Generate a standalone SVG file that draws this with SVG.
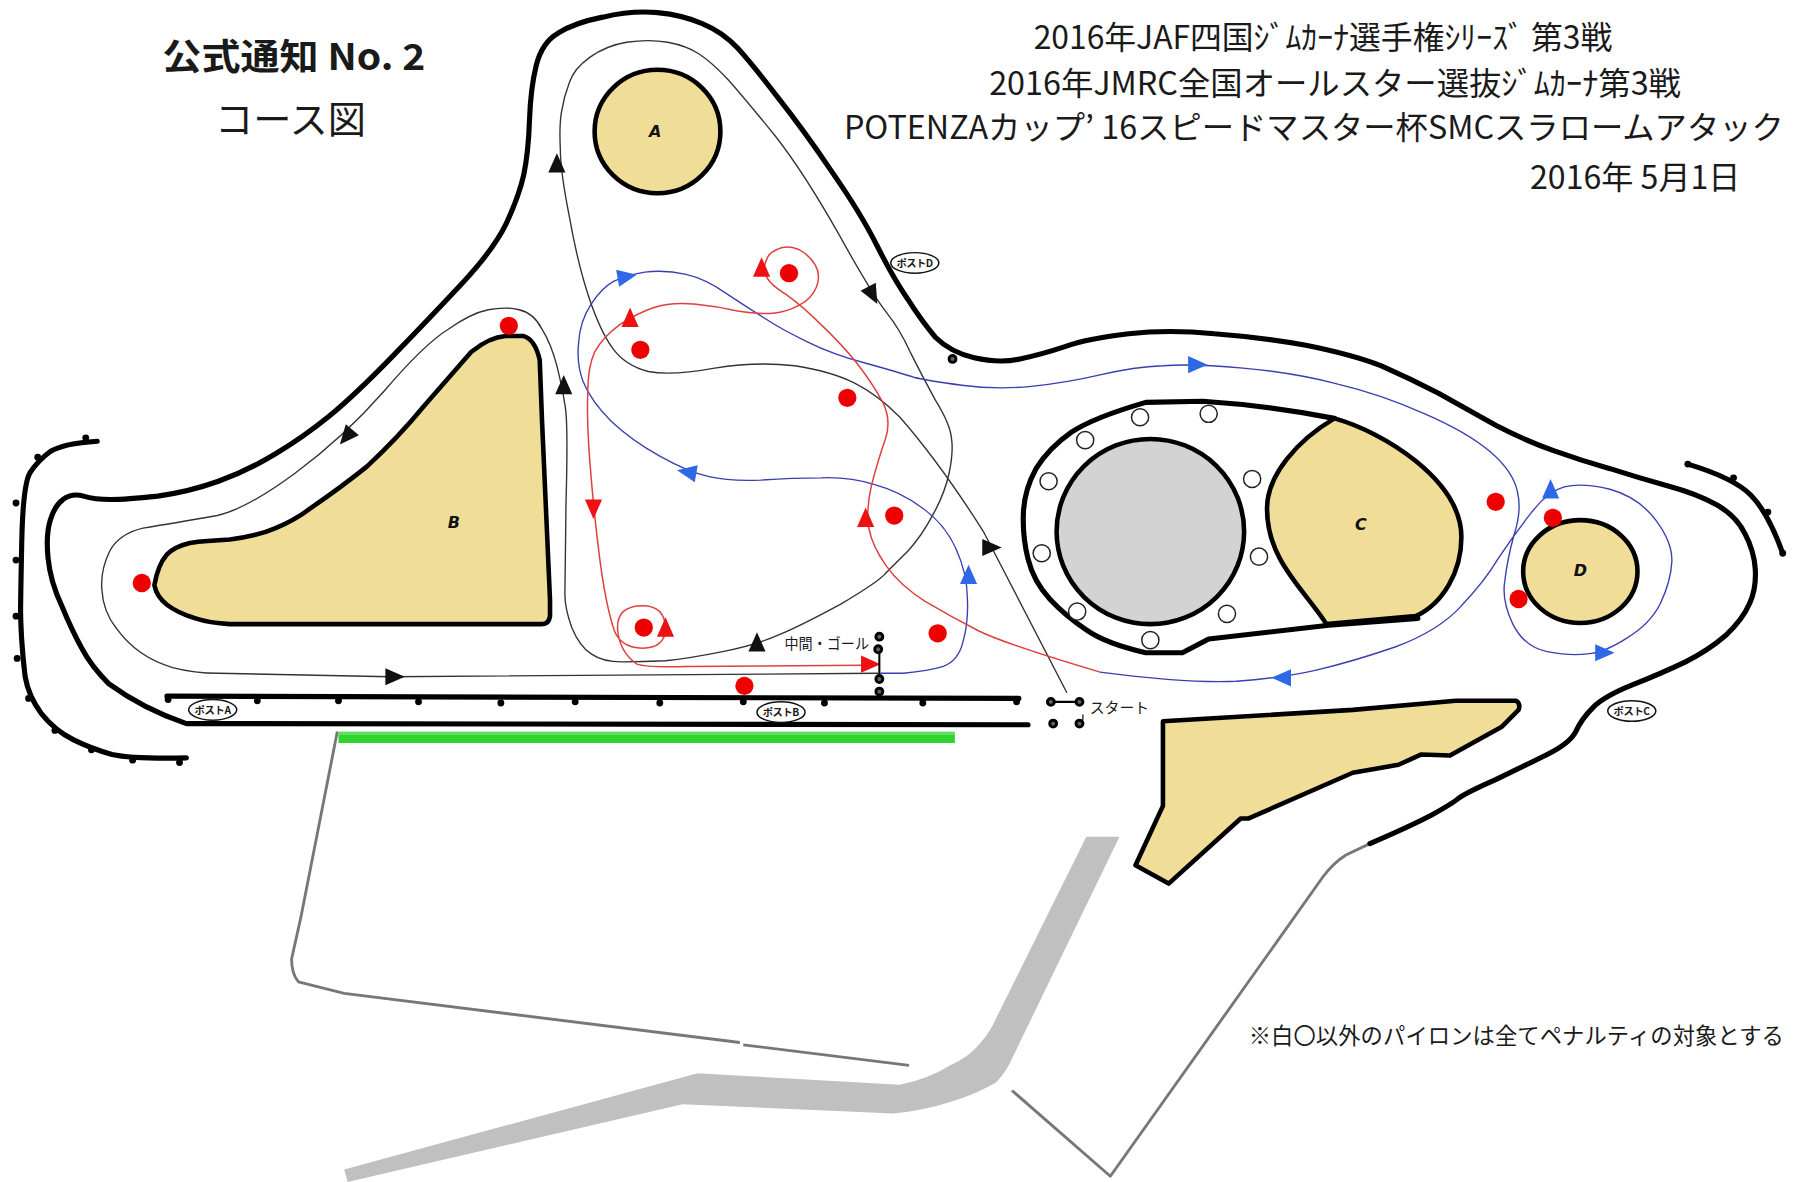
<svg xmlns="http://www.w3.org/2000/svg" width="1793" height="1182" viewBox="0 0 1793 1182">
<style>
text{font-family:"Noto Sans CJK JP","Liberation Sans",sans-serif;fill:#1a1a1a}
.wall{fill:none;stroke:#000;stroke-width:4.5;stroke-linecap:round;stroke-linejoin:round}
.isl{fill:#f0dd98;stroke:#000;stroke-width:4;stroke-linejoin:round}
.gl{fill:none;stroke:#777;stroke-width:2.5;stroke-linejoin:round}
.lab{font-family:"DejaVu Sans",sans-serif;font-weight:700;font-style:italic;font-size:14px;text-anchor:middle;fill:#111}
.pyl{fill:#fff;stroke:#222;stroke-width:1.3}
.pin{fill:#000}
.cone{fill:#666;stroke:#000;stroke-width:2.6}
.red{fill:#ee0000}
.post{fill:#fff;stroke:#111;stroke-width:1.3}
.pt{font-size:9px;font-weight:700;text-anchor:middle}
.lk{fill:#111}.lr{fill:#ee1111}.lb{fill:#2e68e6}
.pk{fill:none;stroke:#333;stroke-width:1.2}
.pr{fill:none;stroke:#de4040;stroke-width:1.3}
.pb{fill:none;stroke:#3a3fb0;stroke-width:1.2}
</style>
<defs><polygon id="a" points="-8,-7.500 9,0 -8,7.500"/><circle id="p" r="3"/></defs>
<rect width="1793" height="1182" fill="#fff"/>
<g transform="scale(1.1435,1.1431)">
<g id="road"><path fill="#c0c0c0" d="M301 1023 L610 939 L787 949 Q812 944 831 932 Q848 924 856 914 Q866 903 871 891 L950 732 L979 732 L886 924 Q880 938 871 947 Q852 958 831 964 Q806 972 781 974 L597 966 L304 1034 Z"/></g>
<g id="paddock"><path class="gl" d="M295 640 L263 803 L255 839 Q255 852 261 859 L301 869 L647 912"/><path class="gl" d="M650 914 L795 932"/><path class="gl" d="M1198 738 L1177 748 Q1166 755 1157 767 L971 1029 L885 954"/></g>
<g id="green-bar"><rect x="296" y="641" width="539" height="9" fill="#2fd22f"/><rect x="296" y="640" width="539" height="3" fill="#62dd62"/></g>
<g id="track-outline"><path class="wall" d="M899 634 L163 633 Q125 620 95 598 Q80 583 72 568 Q63 552 54 530 Q44 509 42 488 Q40 468 44 455 Q48 442 55 437 Q63 431 73 434 Q83 437 97 437 Q110 437 138 434 Q166 430 191 421 Q216 412 241 397 Q266 382 288 364 Q311 345 343 312 Q376 278 404 248 Q432 218 443 195 Q454 171 458 153 Q462 134 463 106 Q464 77 469 57 Q474 37 488 29 Q502 20 527 15 Q552 9 575 11 Q597 13 615 21 Q632 28 645 42 Q657 55 680 85 Q703 114 728 151 Q753 187 767 215 Q781 243 794 262 Q806 281 818 295 Q831 308 852 313 Q874 318 892 314 Q911 310 932 303 Q952 296 987 292 Q1022 288 1062 292 Q1102 295 1142 302 Q1182 310 1208 320 Q1233 331 1258 344 Q1283 358 1308 372 Q1333 385 1358 394 Q1383 403 1408 410 Q1433 418 1458 425 Q1484 432 1502 442 Q1519 452 1526 467 Q1534 482 1535 498 Q1536 515 1530 528 Q1524 542 1509 556 Q1494 569 1474 579 Q1453 589 1428 599 Q1403 609 1393 619 Q1383 629 1378 640 Q1373 650 1353 660 Q1333 670 1308 682 Q1283 693 1276 698 Q1270 703 1252 713 Q1233 723 1198 738"/></g>
<g id="fence-left"><path class="wall" d="M85 386 Q55 388 44 395 Q33 403 26 414 Q20 425 19 475 Q18 525 18 534 Q18 543 19 560 Q20 576 22 592 Q25 609 36 624 Q48 639 64 647 Q80 655 98 660 Q116 664 163 663"/>
<use href="#p" class="pin" x="75" y="383"/><use href="#p" class="pin" x="33" y="400"/><use href="#p" class="pin" x="14" y="440"/><use href="#p" class="pin" x="14" y="490"/><use href="#p" class="pin" x="14" y="539"/><use href="#p" class="pin" x="15" y="576"/><use href="#p" class="pin" x="25" y="611"/><use href="#p" class="pin" x="48" y="639"/><use href="#p" class="pin" x="80" y="656"/><use href="#p" class="pin" x="116" y="665"/><use href="#p" class="pin" x="157" y="667"/></g>
<g id="fence-right"><path class="wall" d="M1476 406 Q1516 418 1531 433 Q1546 448 1559 484"/><use href="#p" class="pin" x="1476" y="406"/><use href="#p" class="pin" x="1516" y="418"/><use href="#p" class="pin" x="1546" y="448"/><use href="#p" class="pin" x="1559" y="484"/></g>
<g id="fence-straight"><path class="wall" d="M146 609 L891 611"/><use href="#p" class="pin" x="147" y="612"/><use href="#p" class="pin" x="225" y="613"/><use href="#p" class="pin" x="296" y="613"/><use href="#p" class="pin" x="366" y="614"/><use href="#p" class="pin" x="438" y="615"/><use href="#p" class="pin" x="503" y="614"/><use href="#p" class="pin" x="577" y="615"/><use href="#p" class="pin" x="650" y="614"/><use href="#p" class="pin" x="721" y="615"/><use href="#p" class="pin" x="807" y="615"/><use href="#p" class="pin" x="889" y="614"/></g>
<g id="island-a"><ellipse class="isl" cx="575" cy="115" rx="55" ry="54"/><text class="lab" x="573" y="120">A</text></g>
<g id="island-b"><path class="isl" d="M135 512 Q138 494 146 485 Q153 478 166 475 Q180 473 201 472 Q225 469 241 462 Q258 455 271 445 Q300 425 321 408 Q348 383 371 355 L412 308 Q428 295 442 294 L458 294 Q468 297 472 315 L474 368 L477 435 L481 525 L481 539 Q480 546 474 546 L201 546 Q183 545 171 541 Q155 536 146 529 Q137 522 135 512 Z"/><text class="lab" x="397" y="462">B</text></g>
<g id="island-c-ring"><path class="wall" d="M1240 541 L1162 547 L1057 559 L1034 571 L1002 571 Q967 563 950 551 Q932 539 918 524 Q904 509 899 489 Q894 469 895 448 Q896 428 906 410 Q917 392 937 378 Q957 365 1002 352 L1052 351 Q1112 355 1167 366"/></g>
<g id="island-c"><path class="isl" d="M1167 366 C1210 378 1278 420 1278 470 C1278 500 1262 528 1238 539 L1160 546 C1140 515 1108 490 1108 445 C1108 415 1135 385 1167 366 Z"/><text class="lab" x="1190" y="464">C</text></g>
<g id="center-circle"><ellipse cx="1006" cy="465" rx="82" ry="81" fill="#d3d3d3" stroke="#000" stroke-width="4"/></g>
<g id="island-d"><ellipse class="isl" cx="1382" cy="500" rx="50" ry="45"/><text class="lab" x="1382" y="504">D</text></g>
<g id="island-south"><path class="isl" d="M1017 631 L1183 621 L1273 613 L1326 613 Q1330 616 1328 621 L1313 636 L1268 661 L1243 660 L1223 669 L1183 676 L1092 716 L1085 716 L1022 773 L993 757 L1017 705 Z"/></g>
<g id="white-pylons"><circle class="pyl" cx="1057" cy="362" r="7.5"/><circle class="pyl" cx="997" cy="365" r="7.5"/><circle class="pyl" cx="949" cy="385" r="7.5"/><circle class="pyl" cx="917" cy="421" r="7.5"/><circle class="pyl" cx="911" cy="484" r="7.5"/><circle class="pyl" cx="942" cy="535" r="7.5"/><circle class="pyl" cx="1006" cy="560" r="7.5"/><circle class="pyl" cx="1073" cy="537" r="7.5"/><circle class="pyl" cx="1101" cy="487" r="7.5"/><circle class="pyl" cx="1095" cy="419" r="7.5"/></g>
<g id="connectors">
<path class="pk" d="M933 606 L860 465 Q822 405 787 365 Q767 345 747 335 Q727 325 695 320 Q662 316 625 322 Q587 329 567 325 Q547 320 536 305 Q525 290 515 260 Q505 230 498 190 Q490 150 490 130 Q489 110 491 98 Q493 85 498 72 Q502 60 516 50 Q530 40 548 37 Q567 34 584 37 Q600 40 611 47 Q622 54 637 70 Q652 87 678 119 Q703 151 733 204 Q763 258 775 273 Q787 288 796 308 Q806 328 818 350 Q831 371 832 383 Q834 395 830 414 Q826 432 816 450 Q806 469 794 482 Q781 495 774 502 Q768 509 736 528 Q703 546 682 555 Q662 564 632 570 Q602 576 582 578 Q562 579 544 579 Q527 579 517 572 Q507 566 500 549 Q494 532 494 520 Q494 509 495 439 Q497 368 494 354 Q492 340 487 320 Q482 301 474 288 Q467 274 454 271 Q442 268 427 271 Q412 274 392 288 Q371 301 336 342 Q301 382 258 414 Q216 445 190 451 Q150 458 125 462 Q104 467 96 482 Q88 498 89 515 Q90 535 102 550 Q120 575 151 584 Q170 589 191 589 L341 592 L768 589"/>
<path class="pb" d="M770 589 L790 589 Q812 587 825 583 Q838 578 842 562 Q847 545 846 524 Q846 502 836 480 Q826 458 806 444 Q787 430 765 424 Q743 417 718 418 Q693 418 665 420 Q637 421 620 417 Q602 413 577 399 Q552 385 534 368 Q517 351 510 334 Q504 318 506 300 Q507 281 517 266 Q527 251 537 246 Q547 241 564 238 Q582 236 600 240 Q617 244 634 256 Q652 268 668 278 Q683 288 706 299 Q728 310 758 318 Q787 326 799 330 Q811 333 841 337 Q871 341 902 338 Q932 335 962 328 Q992 321 1017 320 Q1042 318 1087 322 Q1132 326 1170 336 Q1208 345 1246 362 Q1283 378 1303 395 Q1323 412 1327 430 Q1331 447 1324 468 Q1318 490 1316 508 Q1313 525 1323 546 Q1333 566 1353 570 Q1373 574 1388 572 Q1403 571 1423 558 Q1443 546 1452 528 Q1461 509 1462 492 Q1463 475 1448 455 Q1433 435 1408 428 Q1383 422 1368 426 Q1353 430 1338 450 Q1323 469 1310 489 Q1298 509 1278 530 Q1258 552 1220 566 Q1182 579 1152 586 Q1122 593 1081 596 Q1040 598 962 588"/>
<path class="pr" d="M962 588 Q881 564 856 552 Q831 539 809 526 Q787 512 775 495 Q763 478 760 463 Q757 448 762 425 Q768 402 774 385 Q780 368 772 352 Q763 335 748 316 Q733 298 718 284 Q703 269 688 258 Q672 248 670 241 Q667 234 670 228 Q672 221 680 218 Q688 214 698 218 Q708 223 713 232 Q718 241 714 251 Q710 261 699 267 Q688 273 676 274 Q663 275 645 272 Q627 268 607 266 Q587 264 572 269 Q557 274 542 284 Q527 295 520 308 Q514 321 514 344 Q513 368 516 406 Q519 445 524 485 Q529 525 536 548 Q541 567 562 567 Q582 567 582 549 Q581 530 562 530 Q540 530 540 549 Q541 570 557 581 Q565 584 600 583 L755 582"/>
<use href="#a" class="lk" transform="translate(487,143) rotate(-90)"/>
<use href="#a" class="lk" transform="translate(763,258) rotate(62)"/>
<use href="#a" class="lk" transform="translate(867,479)"/>
<use href="#a" class="lk" transform="translate(493,337) rotate(-90)"/>
<use href="#a" class="lk" transform="translate(303,382) rotate(130)"/>
<use href="#a" class="lk" transform="translate(662,562) rotate(-90)"/>
<use href="#a" class="lk" transform="translate(345,592)"/>
<use href="#a" class="lr" transform="translate(666,234) rotate(-90)"/>
<use href="#a" class="lr" transform="translate(551,278) rotate(-90)"/>
<use href="#a" class="lr" transform="translate(519,445) rotate(90)"/>
<use href="#a" class="lr" transform="translate(582,549) rotate(-90)"/>
<use href="#a" class="lr" transform="translate(757,453) rotate(-90)"/>
<use href="#a" class="lr" transform="translate(761,581)"/>
<use href="#a" class="lb" transform="translate(548,242) rotate(-10)"/>
<use href="#a" class="lb" transform="translate(601,413) rotate(190)"/>
<use href="#a" class="lb" transform="translate(847,503) rotate(-90)"/>
<use href="#a" class="lb" transform="translate(1047,319)"/>
<use href="#a" class="lb" transform="translate(1356,428) rotate(-90)"/>
<use href="#a" class="lb" transform="translate(1403,571)"/>
<use href="#a" class="lb" transform="translate(1121,593) rotate(180)"/>
<path d="M769 568 V592 M919 614 H944" stroke="#000" stroke-width="1.8" fill="none"/>
<path d="M947 625 V630" stroke="#000" stroke-width="1"/>
</g>
<g id="red-pylons"><circle class="red" cx="445" cy="285" r="8"/><circle class="red" cx="124" cy="510" r="8"/><circle class="red" cx="560" cy="306" r="8"/><circle class="red" cx="741" cy="348" r="8"/><circle class="red" cx="690" cy="239" r="8"/><circle class="red" cx="782" cy="451" r="8"/><circle class="red" cx="820" cy="554" r="8"/><circle class="red" cx="563" cy="549" r="8"/><circle class="red" cx="651" cy="600" r="8"/><circle class="red" cx="1308" cy="439" r="8"/><circle class="red" cx="1358" cy="453" r="8"/><circle class="red" cx="1328" cy="524" r="8"/></g>
<g id="cones"><use href="#p" class="cone" x="769" y="557"/><use href="#p" class="cone" x="768" y="568"/><use href="#p" class="cone" x="769" y="594"/><use href="#p" class="cone" x="769" y="605"/><use href="#p" class="cone" x="919" y="614"/><use href="#p" class="cone" x="944" y="614"/><use href="#p" class="cone" x="921" y="633"/><use href="#p" class="cone" x="944" y="633"/><use href="#p" class="cone" x="833" y="314"/></g>
<g id="post-a"><ellipse class="post" cx="186" cy="621" rx="21" ry="9"/><text class="pt" x="186" y="624.500" textLength="32">ポストA</text></g>
<g id="post-b"><ellipse class="post" cx="683" cy="623" rx="21" ry="9"/><text class="pt" x="683" y="626.500" textLength="32">ポストB</text></g>
<g id="post-c"><ellipse class="post" cx="1427" cy="622" rx="21" ry="9"/><text class="pt" x="1427" y="625.500" textLength="32">ポストC</text></g>
<g id="post-d"><ellipse class="post" cx="800" cy="230" rx="21" ry="9"/><text class="pt" x="800" y="233.500" textLength="32">ポストD</text></g>
<g id="labels">
<text x="686" y="568" font-size="13" textLength="74" lengthAdjust="spacingAndGlyphs">中間・ゴール</text>
<text x="953" y="624" font-size="13" textLength="52" lengthAdjust="spacingAndGlyphs">スタート</text>
<text x="142" y="61" font-size="32" font-weight="700" textLength="230" lengthAdjust="spacingAndGlyphs">公式通知 No. 2</text>
<text x="188" y="116" font-size="33" textLength="132" lengthAdjust="spacingAndGlyphs">コース図</text>
<text x="904" y="43" font-size="28" textLength="506" lengthAdjust="spacingAndGlyphs">2016年JAF四国ｼﾞﾑｶｰﾅ選手権ｼﾘｰｽﾞ 第3戦</text>
<text x="865" y="83" font-size="28" textLength="605" lengthAdjust="spacingAndGlyphs">2016年JMRC全国オールスター選抜ｼﾞﾑｶｰﾅ第3戦</text>
<text x="738" y="122" font-size="28" textLength="822" lengthAdjust="spacingAndGlyphs">POTENZAカップ’ 16スピードマスター杯SMCスラロームアタック</text>
<text x="1338" y="165" font-size="28" textLength="184" lengthAdjust="spacingAndGlyphs">2016年 5月1日</text>
<text x="1092" y="913" font-size="19.500" textLength="468">※白〇以外のパイロンは全てペナルティの対象とする</text>
</g>
</g>
</svg>
